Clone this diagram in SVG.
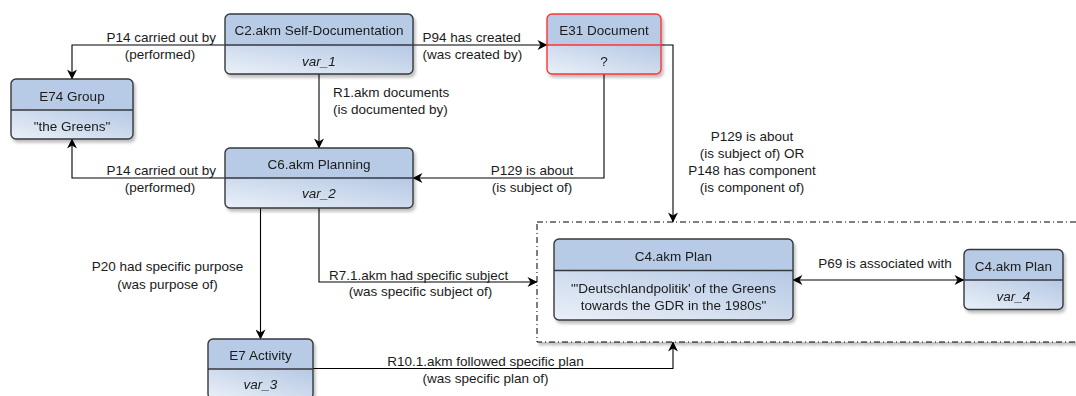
<svg xmlns="http://www.w3.org/2000/svg" width="1076" height="396" viewBox="0 0 1076 396">
<defs>
<linearGradient id="body" x1="0" y1="1" x2="1" y2="0">
<stop offset="0" stop-color="#EAF0F8"/>
<stop offset="1" stop-color="#B5C8E4"/>
</linearGradient>
<filter id="sh" x="-10%" y="-10%" width="130%" height="140%">
<feGaussianBlur in="SourceAlpha" stdDeviation="1.5"/>
<feOffset dx="2" dy="3" result="b"/>
<feComponentTransfer><feFuncA type="linear" slope="0.25"/></feComponentTransfer>
<feMerge><feMergeNode/><feMergeNode in="SourceGraphic"/></feMerge>
</filter>
<marker id="arr" viewBox="0 0 10 10" refX="9.5" refY="5" markerWidth="11" markerHeight="10" markerUnits="userSpaceOnUse" orient="auto-start-reverse">
<path d="M0,0 L10,5 L0,10 L3,5 z" fill="#000"/>
</marker>
</defs>
<style>
text{font-family:"Liberation Sans",Arial,sans-serif;font-size:13.5px;fill:#1a1a1a;}
.c{text-anchor:middle;}
.r{text-anchor:end;}
.i{font-style:italic;}
.hd{fill:#B8CBE6;}
.bd{fill:url(#body);}
.ol{fill:none;stroke:#36393d;stroke-width:1.4;}
.red{stroke:#FF3333;}
.dv{stroke:#36393d;stroke-width:1.4;}
.dvr{stroke:#FF3333;stroke-width:1.4;}
.ea{fill:none;stroke:#000;stroke-width:1.1;marker-end:url(#arr);}
.eb{fill:none;stroke:#000;stroke-width:1.1;marker-end:url(#arr);marker-start:url(#arr);}
</style>
<rect width="1076" height="396" fill="#fff"/>

<g id="container">
<rect x="537" y="222" width="560" height="120" fill="#fff" stroke="#000" stroke-width="1" stroke-dasharray="6 3 1 3" filter="url(#sh)"/>
</g>

<g id="connectors">
<path class="ea" d="M225,45 H72 V79"/>
<path class="ea" d="M413,45 H547"/>
<path class="ea" d="M319,74 V148"/>
<path class="ea" d="M225,178 H72 V139"/>
<path class="ea" d="M604,74 V178 H413"/>
<path class="ea" d="M661,45 H673 V222"/>
<path class="ea" d="M260.5,208 V339"/>
<path class="ea" d="M319,208 V282 H537"/>
<path class="ea" d="M313,368.5 H673 V342"/>
<path class="eb" d="M793,280 H964"/>
</g>

<g id="edge-labels">
<text class="r" x="216" y="42">P14 carried out by</text>
<text class="c" x="160" y="58.7">(performed)</text>
<text x="422.5" y="41.7">P94 has created</text>
<text x="422.5" y="58.7">(was created by)</text>
<text x="333" y="97">R1.akm documents</text>
<text x="333" y="113.7">(is documented by)</text>
<text class="r" x="216" y="175.4">P14 carried out by</text>
<text class="c" x="160" y="192">(performed)</text>
<text class="c" x="532" y="174.7">P129 is about</text>
<text class="c" x="532" y="191.7">(is subject of)</text>
<text class="c" x="752" y="141.4">P129 is about</text>
<text class="c" x="752" y="158">(is subject of) OR</text>
<text class="c" x="752" y="174.7">P148 has component</text>
<text class="c" x="752" y="192">(is component of)</text>
<text class="c" x="167.5" y="271.4">P20 had specific purpose</text>
<text class="c" x="167.5" y="289">(was purpose of)</text>
<text x="329" y="279.7">R7.1.akm had specific subject</text>
<text class="c" x="420.5" y="296.4">(was specific subject of)</text>
<text class="c" x="485.5" y="365.7">R10.1.akm followed specific plan</text>
<text class="c" x="485.5" y="383">(was specific plan of)</text>
<text class="c" x="885" y="268.4">P69 is associated with</text>
</g>

<g id="c2" filter="url(#sh)">
<path class="hd" d="M230,14 H408 Q413,14 413,19 V45 H225 V19 Q225,14 230,14 z"/>
<path class="bd" d="M225,45 H413 V69 Q413,74 408,74 H230 Q225,74 225,69 z"/>
<rect class="ol" x="225" y="14" width="188" height="60" rx="5"/>
<line class="dv" x1="225" y1="45" x2="413" y2="45"/>
<text class="c" x="319" y="35.4">C2.akm Self-Documentation</text>
<text class="c i" x="319" y="66.4">var_1</text>
</g>

<g id="e74" filter="url(#sh)">
<path class="hd" d="M16,79 H128 Q133,79 133,84 V110 H11 V84 Q11,79 16,79 z"/>
<path class="bd" d="M11,110 H133 V134 Q133,139 128,139 H16 Q11,139 11,134 z"/>
<rect class="ol" x="11" y="79" width="122" height="60" rx="5"/>
<line class="dv" x1="11" y1="110" x2="133" y2="110"/>
<text class="c" x="72" y="100.7">E74 Group</text>
<text class="c" x="72" y="130.7">"the Greens"</text>
</g>

<g id="e31" filter="url(#sh)">
<path class="hd" d="M552,14 H656 Q661,14 661,19 V45 H547 V19 Q547,14 552,14 z"/>
<path class="bd" d="M547,45 H661 V69 Q661,74 656,74 H552 Q547,74 547,69 z"/>
<rect class="ol red" x="547" y="14" width="114" height="60" rx="5"/>
<line class="dvr" x1="547" y1="45" x2="661" y2="45"/>
<text class="c" x="604" y="35.4">E31 Document</text>
<text class="c" x="604" y="66.4">?</text>
</g>

<g id="c6" filter="url(#sh)">
<path class="hd" d="M230,148 H408 Q413,148 413,153 V178 H225 V153 Q225,148 230,148 z"/>
<path class="bd" d="M225,178 H413 V203 Q413,208 408,208 H230 Q225,208 225,203 z"/>
<rect class="ol" x="225" y="148" width="188" height="60" rx="5"/>
<line class="dv" x1="225" y1="178" x2="413" y2="178"/>
<text class="c" x="319" y="169">C6.akm Planning</text>
<text class="c i" x="319" y="198">var_2</text>
</g>

<g id="e7" filter="url(#sh)">
<path class="hd" d="M213,339 H308 Q313,339 313,344 V369 H208 V344 Q208,339 213,339 z"/>
<path class="bd" d="M208,369 H313 V394 Q313,399 308,399 H213 Q208,399 208,394 z"/>
<rect class="ol" x="208" y="339" width="105" height="60" rx="5"/>
<line class="dv" x1="208" y1="369" x2="313" y2="369"/>
<text class="c" x="260.5" y="359.7">E7 Activity</text>
<text class="c i" x="260.5" y="389">var_3</text>
</g>

<g id="c4plan" filter="url(#sh)">
<path class="hd" d="M559,239 H788 Q793,239 793,244 V270.5 H554 V244 Q554,239 559,239 z"/>
<path class="bd" d="M554,270.5 H793 V315 Q793,320 788,320 H559 Q554,320 554,315 z"/>
<rect class="ol" x="554" y="239" width="239" height="81" rx="5"/>
<line class="dv" x1="554" y1="270.5" x2="793" y2="270.5"/>
<text class="c" x="673.5" y="261.4">C4.akm Plan</text>
<text class="c" x="673.5" y="293">"'Deutschlandpolitik' of the Greens</text>
<text class="c" x="673.5" y="310">towards the GDR in the 1980s"</text>
</g>

<g id="c4var4" filter="url(#sh)">
<path class="hd" d="M969,249.5 H1058 Q1063,249.5 1063,254.5 V280 H964 V254.5 Q964,249.5 969,249.5 z"/>
<path class="bd" d="M964,280 H1063 V304.5 Q1063,309.5 1058,309.5 H969 Q964,309.5 964,304.5 z"/>
<rect class="ol" x="964" y="249.5" width="99" height="60" rx="5"/>
<line class="dv" x1="964" y1="280" x2="1063" y2="280"/>
<text class="c" x="1013.5" y="271">C4.akm Plan</text>
<text class="c i" x="1013.5" y="300.7">var_4</text>
</g>
</svg>
